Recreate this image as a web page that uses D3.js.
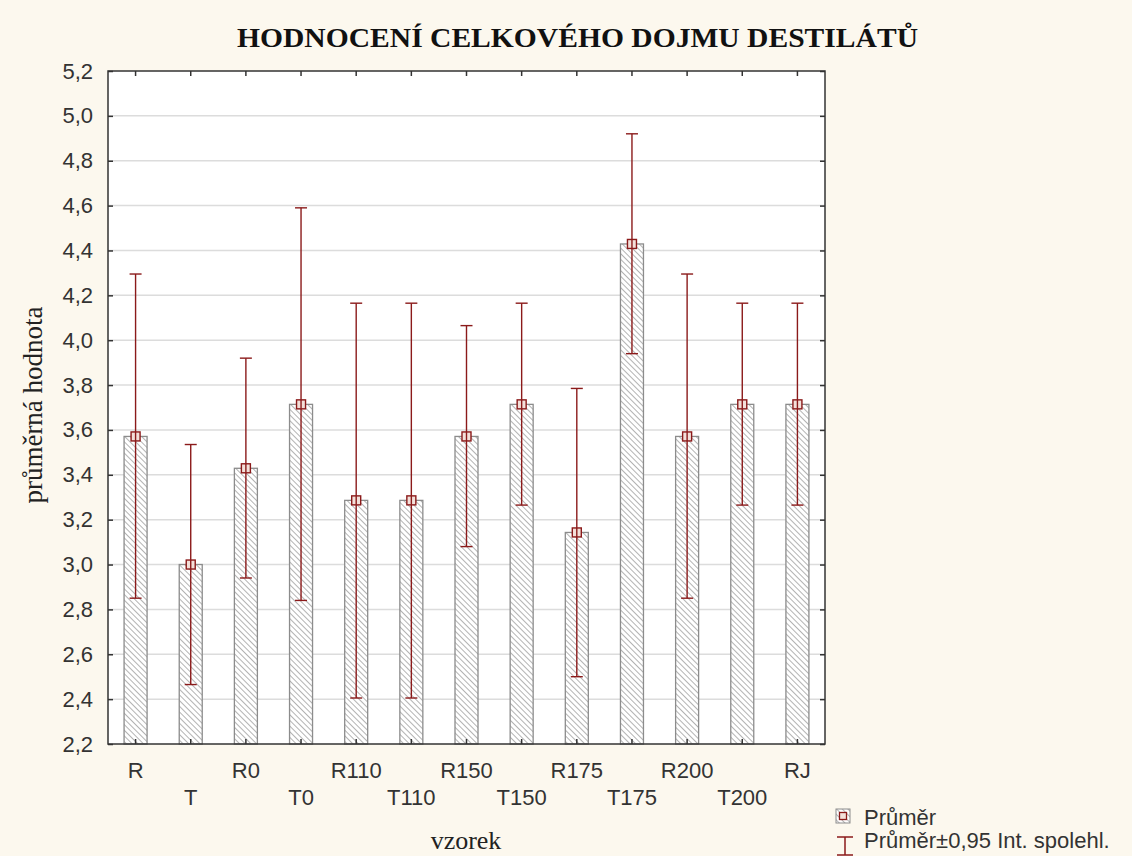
<!DOCTYPE html>
<html><head><meta charset="utf-8">
<script src="https://cdn.jsdelivr.net/npm/d3@7"></script>
<style>html,body{margin:0;padding:0;background:#fcf8ee;}svg{display:block;}</style>
</head><body>
<script>
const categories = ["R","T","R0","T0","R110","T110","R150","T150","R175","T175","R200","T200","RJ"];
const means = [3.571,3.0,3.429,3.714,3.286,3.286,3.571,3.714,3.143,4.429,3.571,3.714,3.714];
const lower = [2.85,2.465,2.94,2.84,2.405,2.405,3.08,3.265,2.50,3.94,2.85,3.265,3.265];
const upper = [4.295,3.535,3.92,4.59,4.165,4.165,4.065,4.165,3.785,4.92,4.295,4.165,4.165];
const yTicks = [2.2,2.4,2.6,2.8,3.0,3.2,3.4,3.6,3.8,4.0,4.2,4.4,4.6,4.8,5.0,5.2];

const W=1132,H=856;
const L=108,R=825,T=71,B=744;
const SANS="'Liberation Sans',Arial,sans-serif", SERIF="'Liberation Serif','Times New Roman',serif";
const svg=d3.select("body").append("svg").attr("width",W).attr("height",H);
svg.append("rect").attr("width",W).attr("height",H).attr("fill","#fcf8ee");

const defs=svg.append("defs");
const pat=defs.append("pattern").attr("id","hatch").attr("patternUnits","userSpaceOnUse")
  .attr("width",4).attr("height",4).attr("patternTransform","rotate(45)");
pat.append("rect").attr("width",4).attr("height",4).attr("fill","#ffffff");
pat.append("line").attr("x1",0).attr("y1",0).attr("x2",4).attr("y2",0).attr("stroke","#a0a0a0").attr("stroke-width",1.6);

const x=d3.scaleBand().domain(categories).range([L,R]).padding(0);
const y=d3.scaleLinear().domain([2.2,5.2]).range([B,T]);
const fmt=d=>d3.format(".1f")(d).replace(".",",");

svg.append("rect").attr("x",L).attr("y",T).attr("width",R-L).attr("height",B-T).attr("fill","#fff");

// grid
svg.append("g").selectAll("line").data(yTicks.slice(1,-1)).join("line")
  .attr("x1",L).attr("x2",R).attr("y1",d=>y(d)).attr("y2",d=>y(d))
  .attr("stroke","#dcdcdc").attr("stroke-width",1.5);

const bw=23;
// bars
svg.append("g").selectAll("rect").data(categories).join("rect")
  .attr("x",d=>x(d)+x.bandwidth()/2-bw/2).attr("width",bw)
  .attr("y",(d,i)=>y(means[i])).attr("height",(d,i)=>B-y(means[i]))
  .attr("fill","url(#hatch)").attr("stroke","#8c8c8c").attr("stroke-width",1.3);

// error bars
const eb=svg.append("g").attr("stroke","#8b1a1a").attr("stroke-width",1.4).attr("fill","none");
categories.forEach((c,i)=>{
  const cx=x(c)+x.bandwidth()/2;
  eb.append("line").attr("x1",cx).attr("x2",cx).attr("y1",y(lower[i])).attr("y2",y(upper[i]));
  eb.append("line").attr("x1",cx-6).attr("x2",cx+6).attr("y1",y(lower[i])).attr("y2",y(lower[i]));
  eb.append("line").attr("x1",cx-6).attr("x2",cx+6).attr("y1",y(upper[i])).attr("y2",y(upper[i]));
  eb.append("rect").attr("x",cx-4.5).attr("y",y(means[i])-4.5).attr("width",9).attr("height",9)
    .attr("fill","#f3e0da");
  eb.append("line").attr("x1",cx).attr("x2",cx).attr("y1",y(means[i])-4.5).attr("y2",y(means[i])+4.5);
});

// axes (ticks inward)
const ax=svg.append("g").attr("font-family",SANS);
const yAxisL=d3.axisLeft(y).tickValues(yTicks).tickSize(-5).tickFormat(fmt).tickPadding(15);
const gL=ax.append("g").attr("transform",`translate(${L},0)`).call(yAxisL);
gL.selectAll("text").attr("font-size",22).attr("fill","#333").attr("font-family",SANS);
const yAxisR=d3.axisRight(y).tickValues(yTicks).tickSize(-5).tickFormat("");
ax.append("g").attr("transform",`translate(${R},0)`).call(yAxisR);
const xAxisB=d3.axisBottom(x).tickSize(-5).tickFormat("");
ax.append("g").attr("transform",`translate(0,${B})`).call(xAxisB);
const xAxisT=d3.axisTop(x).tickSize(-5).tickFormat("");
ax.append("g").attr("transform",`translate(0,${T})`).call(xAxisT);
ax.selectAll(".domain").remove();
ax.selectAll(".tick line").attr("stroke","#333").attr("stroke-width",1.5);
svg.append("rect").attr("x",L).attr("y",T).attr("width",R-L).attr("height",B-T)
  .attr("fill","none").attr("stroke","#333").attr("stroke-width",1.5);

// x tick labels alternating
svg.append("g").selectAll("text").data(categories).join("text")
  .attr("x",d=>x(d)+x.bandwidth()/2)
  .attr("y",(d,i)=>i%2===0?778:805)
  .attr("text-anchor","middle").attr("font-family",SANS)
  .attr("font-size",22).attr("fill","#333").text(d=>d);

// title
svg.append("text").attr("x",577.5).attr("y",47).attr("text-anchor","middle")
  .attr("font-family",SERIF).attr("font-weight","bold")
  .attr("font-size",27).attr("fill","#111")
  .attr("textLength",681).attr("lengthAdjust","spacingAndGlyphs")
  .text("HODNOCENÍ CELKOVÉHO DOJMU DESTILÁTŮ");
// axis titles
svg.append("text").attr("transform","translate(42,405) rotate(-90)").attr("text-anchor","middle")
  .attr("font-family",SERIF).attr("font-size",27).attr("fill","#222")
  .text("průměrná hodnota");
svg.append("text").attr("x",466).attr("y",849).attr("text-anchor","middle")
  .attr("font-family",SERIF).attr("font-size",26).attr("fill","#222")
  .text("vzorek");

// legend
const lg=svg.append("g");
lg.append("rect").attr("x",836).attr("y",809).attr("width",14).attr("height",14)
  .attr("fill","url(#hatch)").attr("stroke","#8c8c8c").attr("stroke-width",1);
lg.append("rect").attr("x",839.5).attr("y",812.5).attr("width",7).attr("height",7)
  .attr("fill","#f3e0da").attr("stroke","#8b1a1a").attr("stroke-width",1.3);
lg.append("text").attr("x",864).attr("y",825).attr("font-family",SANS)
  .attr("font-size",22).attr("fill","#333").text("Průměr");
const ei=lg.append("g").attr("stroke","#8b1a1a").attr("stroke-width",1.5);
ei.append("line").attr("x1",837).attr("x2",853).attr("y1",837).attr("y2",837);
ei.append("line").attr("x1",845).attr("x2",845).attr("y1",837).attr("y2",855);
ei.append("line").attr("x1",837).attr("x2",853).attr("y1",855).attr("y2",855);
lg.append("text").attr("x",864).attr("y",848).attr("font-family",SANS)
  .attr("font-size",22).attr("fill","#333").text("Průměr±0,95 Int. spolehl.");
</script>
</body></html>
